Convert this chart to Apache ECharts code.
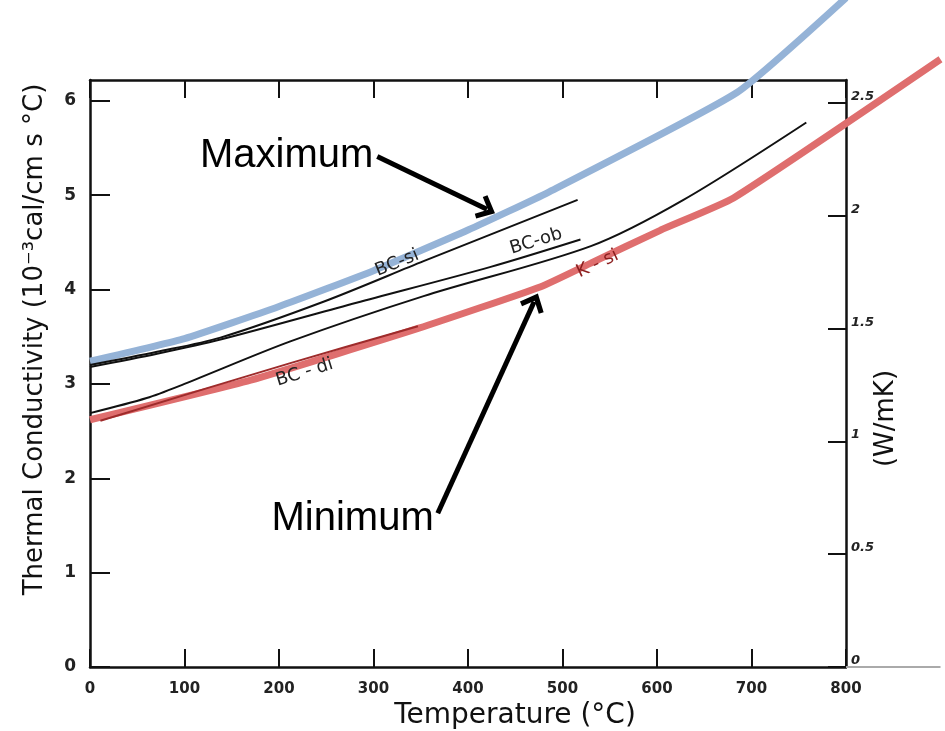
<!DOCTYPE html>
<html>
<head>
<meta charset="utf-8">
<script src="https://cdn.jsdelivr.net/npm/echarts@6/dist/echarts.min.js"></script>
<style>html,body{margin:0;padding:0;background:#fff}#chart{width:945px;height:731px}</style>
</head>
<body>
<div id="chart"></div>
<script>
// temperature (°C) / conductivity (10^-3 cal/cm s °C)
var maxTemp = [0, 100, 200, 300, 400, 485, 685, 800];
var maxCond = [3.24, 3.48, 3.82, 4.2, 4.63, 5.03, 6.09, 7.09];
var minTemp = [0, 170, 348, 477, 530, 604, 681, 900];
var minCond = [2.62, 3.04, 3.59, 4.03, 4.28, 4.63, 4.97, 6.44];
var bcSiTemp = [0, 71, 138, 247, 353, 516];
var bcSiCond = [3.2, 3.34, 3.49, 3.87, 4.3, 4.95];
var bcObTemp = [0, 71, 138, 282, 424, 519];
var bcObCond = [3.18, 3.32, 3.47, 3.86, 4.24, 4.53];
var kSiTemp = [0, 60, 100, 212, 353, 530, 628, 758];
var kSiCond = [2.69, 2.85, 3.0, 3.45, 3.93, 4.46, 4.95, 5.77];
var bcDiTemp = [11, 212, 347];
var bcDiCond = [2.61, 3.22, 3.61];
// the bottom axis line runs on past 800 °C in the figure
var axisExtTemp = [800, 900];
var axisExtCond = [0, 0];

// annotation arrows: [tail, head]
var maxArrow = [[304, 5.41], [420, 4.85]];
var minArrow = [[368, 1.63], [470, 3.87]];

var CAL_TO_W = 0.4184; // 1e-3 cal/cm s °C -> W/mK
var yMax = 6.22;

// frame grid spans 0..800 °C; the curves run past it, so they sit on a
// second, wider grid with the same scale
var W = 945, LEFT = 90, RIGHT = 99;
var pxPerDeg = (W - LEFT - RIGHT) / 800;
var wideRight = 3;
var wideMax = (W - LEFT - wideRight) / pxPerDeg;

function pairs(xs, ys) {
  return xs.map(function (x, i) { return [x, ys[i]]; });
}

var arrowHead = 'path://M12,0 L24,13 L20.5,16 L12,7 L3.5,16 L0,13 Z';
var handFont = 'DejaVu Sans';

function lineLabel(coord, text, rot, color) {
  return {
    coord: coord,
    symbolSize: 0,
    label: {
      show: true, position: 'inside', formatter: text, rotate: rot,
      fontFamily: handFont, fontSize: 18, color: color || '#222'
    }
  };
}

function arrow(pts) {
  return {
    silent: true,
    symbol: ['none', arrowHead],
    symbolSize: [26, 18],
    lineStyle: { color: '#000', width: 5, type: 'solid', opacity: 1 },
    label: { show: false },
    data: [[{ coord: pts[0] }, { coord: pts[1] }]]
  };
}

function bigLabel(coord, text, off) {
  return {
    coord: coord,
    symbolSize: 0,
    label: {
      show: true, position: 'left', distance: 4, formatter: text,
      offset: off || [0, 0],
      fontFamily: 'Liberation Sans', fontSize: 40, color: '#000'
    }
  };
}

function onWide(s) {
  s.xAxisIndex = 2;
  s.yAxisIndex = 2;
  s.clip = false;
  s.showSymbol = false;
  return s;
}

var frameLine = { show: true, onZero: false, lineStyle: { color: '#111', width: 2.5 } };

var myChart = echarts.init(document.getElementById('chart'));

var option = {
  animation: false,
  backgroundColor: '#fff',
  grid: [
    { left: LEFT, right: RIGHT, top: 80, bottom: 64, containLabel: false, outerBoundsMode: 'none' },
    { left: LEFT, right: wideRight, top: 80, bottom: 64, containLabel: false, outerBoundsMode: 'none' }
  ],
  xAxis: [
    {
      type: 'value', gridIndex: 0, min: 0, max: 800, interval: 100,
      name: 'Temperature (°C)', nameLocation: 'middle', nameGap: 33,
      nameTextStyle: { fontFamily: handFont, fontSize: 28, color: '#111', padding: [0, 0, 0, 94] },
      axisLine: frameLine,
      axisTick: { show: true, inside: true, length: 18, lineStyle: { color: '#111', width: 2 } },
      axisLabel: { fontFamily: handFont, fontWeight: 'bold', fontSize: 15, color: '#222', margin: 15 },
      splitLine: { show: false }
    },
    {
      type: 'value', gridIndex: 0, position: 'top', min: 0, max: 800, interval: 100,
      axisLine: frameLine,
      axisTick: { show: true, inside: true, length: 18, lineStyle: { color: '#111', width: 2 } },
      axisLabel: { show: false },
      splitLine: { show: false }
    },
    { type: 'value', gridIndex: 1, min: 0, max: wideMax, show: false }
  ],
  yAxis: [
    {
      type: 'value', gridIndex: 0, min: 0, max: yMax, interval: 1,
      name: 'Thermal Conductivity (10⁻³cal/cm s °C)', nameLocation: 'middle', nameGap: 42, nameRotate: 90,
      nameTextStyle: { fontFamily: handFont, fontSize: 26, color: '#111', padding: [0, 0, 0, 68] },
      axisLine: frameLine,
      axisTick: { show: true, inside: true, length: 20, lineStyle: { color: '#111', width: 2 } },
      axisLabel: { fontFamily: handFont, fontWeight: 'bold', fontSize: 17, color: '#222', margin: 14, showMaxLabel: false },
      splitLine: { show: false }
    },
    {
      type: 'value', gridIndex: 0, position: 'right', min: 0, max: yMax * CAL_TO_W, interval: 0.5,
      name: '(W/mK)', nameLocation: 'middle', nameGap: 27, nameRotate: 90, nameMoveOverlap: false,
      nameTextStyle: { fontFamily: handFont, fontSize: 26, color: '#111', padding: [0, 90, 0, 0] },
      axisLine: frameLine,
      axisTick: { show: true, inside: true, length: 18, lineStyle: { color: '#111', width: 2 } },
      axisLabel: {
        fontFamily: handFont, fontStyle: 'italic', fontWeight: 'bold', fontSize: 13, color: '#222',
        margin: 5, verticalAlign: 'bottom', showMaxLabel: false
      },
      splitLine: { show: false }
    },
    { type: 'value', gridIndex: 1, min: 0, max: yMax, show: false }
  ],
  series: [
    onWide({
      name: 'axis', type: 'line', silent: true,
      data: pairs(axisExtTemp, axisExtCond),
      lineStyle: { color: '#aaa', width: 2 },
      z: 0
    }),
    onWide({
      name: 'Maximum', type: 'line', smooth: 0.15,
      data: pairs(maxTemp, maxCond),
      lineStyle: { color: '#95b3d7', width: 7 },
      markLine: arrow(maxArrow),
      markPoint: { data: [bigLabel(maxArrow[0], 'Maximum')] },
      z: 2
    }),
    onWide({
      name: 'Minimum', type: 'line', smooth: 0.15,
      data: pairs(minTemp, minCond),
      lineStyle: { color: '#df6e6e', width: 7 },
      markLine: arrow(minArrow),
      markPoint: { data: [bigLabel(minArrow[0], 'Minimum', [0, 6])] },
      z: 2
    }),
    onWide({
      name: 'BC-si', type: 'line', smooth: 0.3,
      data: pairs(bcSiTemp, bcSiCond),
      lineStyle: { color: '#111', width: 2 },
      markPoint: { data: [lineLabel([325, 4.28], 'BC-si', 22)] },
      z: 3
    }),
    onWide({
      name: 'BC-ob', type: 'line', smooth: 0.3,
      data: pairs(bcObTemp, bcObCond),
      lineStyle: { color: '#111', width: 2 },
      markPoint: { data: [lineLabel([472, 4.51], 'BC-ob', 17)] },
      z: 3
    }),
    onWide({
      name: 'K-si', type: 'line', smooth: 0.3,
      data: pairs(kSiTemp, kSiCond),
      lineStyle: { color: '#111', width: 2 },
      markPoint: { data: [lineLabel([537, 4.27], 'K - si', 25, '#8b1e1e')] },
      z: 3
    }),
    onWide({
      name: 'BC-di', type: 'line', smooth: 0.3,
      data: pairs(bcDiTemp, bcDiCond),
      lineStyle: { color: '#9e2b2b', width: 2 },
      markPoint: { data: [lineLabel([227, 3.12], 'BC - di', 17)] },
      z: 3
    })
  ]
};

myChart.setOption(option);
</script>
</body>
</html>
